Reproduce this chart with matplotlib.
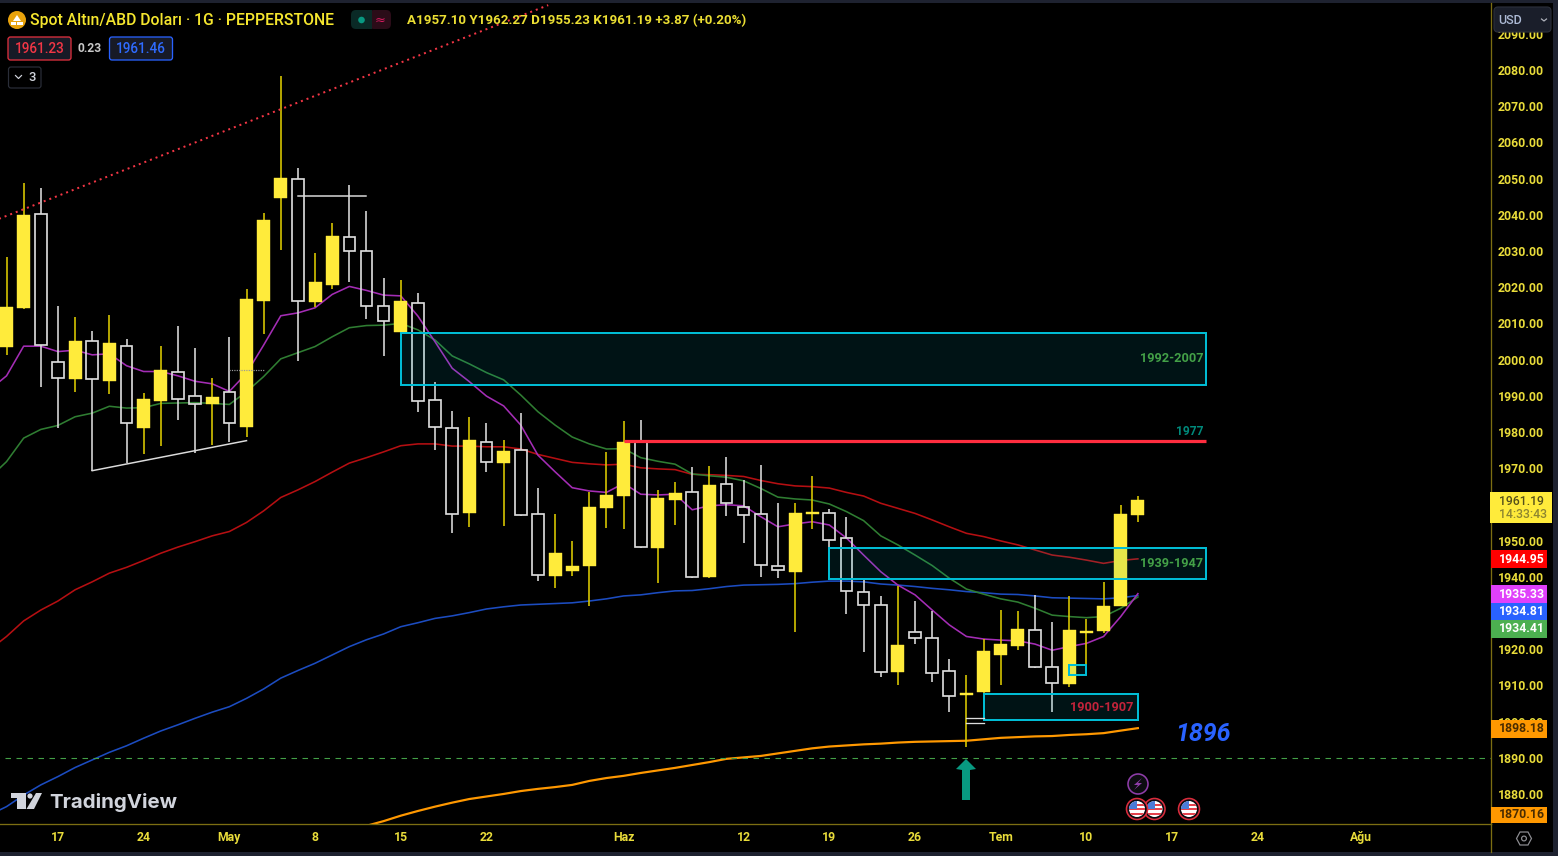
import matplotlib
matplotlib.use("Agg")
import matplotlib.pyplot as plt
from matplotlib.patches import Rectangle, FancyBboxPatch, Circle, Polygon

plt.rcParams['font.family'] = ['Roboto', 'DejaVu Sans']

# ======================
# DATA
# ======================
opens = [2003.4, 2014.3, 2040.2, 1999.2, 1994.6, 2005.1, 1994.0, 2003.8, 1981.2, 1988.6,
         1996.7, 1989.8, 1987.7, 1991.0, 1981.5, 2016.1, 2044.6, 2049.8, 2015.8, 2020.6,
         2033.9, 2029.9, 2014.9, 2007.5, 2015.7, 1988.9, 1981.0, 1957.6, 1977.3, 1971.5,
         1975.1, 1957.4, 1940.2, 1941.7, 1943.1, 1959.0, 1962.4, 1977.3, 1948.0, 1961.2,
         1963.4, 1939.9, 1965.7, 1959.4, 1957.2, 1942.9, 1941.4, 1957.3, 1957.5, 1950.6,
         1935.8, 1932.1, 1913.6, 1924.7, 1923.1, 1914.0, 1907.3, 1908.1, 1918.4, 1921.0,
         1925.3, 1915.1, 1910.5, 1924.4, 1924.9, 1932.0, 1957.10]
highs = [2028.4, 2048.8, 2047.4, 2014.9, 2011.8, 2008.0, 2012.3, 2005.7, 1990.8, 2003.8,
         2009.3, 2003.2, 1994.9, 2006.1, 2019.4, 2040.4, 2078.3, 2053.0, 2029.4, 2037.6,
         2048.1, 2041.1, 2022.6, 2022.0, 2018.3, 1993.8, 1985.9, 1984.2, 1982.5, 1977.7,
         1985.3, 1964.5, 1957.3, 1949.8, 1963.5, 1974.5, 1983.0, 1983.3, 1964.0, 1966.3,
         1970.2, 1970.6, 1973.1, 1966.7, 1970.9, 1960.3, 1960.3, 1967.8, 1958.7, 1956.6,
         1939.1, 1934.8, 1937.5, 1933.3, 1930.6, 1917.2, 1912.9, 1922.7, 1930.8, 1930.6,
         1935.0, 1927.6, 1934.7, 1928.2, 1938.5, 1959.8, 1962.27]
lows = [2001.3, 2014.0, 1992.4, 1981.2, 1991.1, 1969.3, 1990.6, 1971.4, 1974.0, 1976.1,
        1983.4, 1974.2, 1976.4, 1977.3, 1978.6, 2007.0, 2030.4, 1999.6, 2014.4, 2019.5,
        2021.4, 2011.2, 2001.1, 2007.3, 1985.4, 1975.0, 1952.0, 1953.8, 1969.0, 1954.1,
        1956.8, 1938.8, 1936.8, 1940.2, 1932.0, 1953.6, 1953.3, 1948.0, 1938.3, 1954.4,
        1939.6, 1939.7, 1956.7, 1949.3, 1940.0, 1939.7, 1924.8, 1953.3, 1948.0, 1929.7,
        1919.2, 1912.4, 1910.1, 1921.5, 1911.0, 1902.7, 1893.1, 1907.9, 1910.1, 1919.8,
        1914.8, 1902.7, 1909.6, 1915.2, 1924.4, 1931.9, 1955.23]
closes = [2014.6, 2040.0, 2004.0, 1994.9, 2005.2, 1994.6, 2004.7, 1982.5, 1989.0, 1997.0,
          1989.2, 1987.8, 1989.6, 1982.4, 2016.6, 2038.5, 2050.1, 2016.2, 2021.4, 2034.2,
          2030.1, 2014.8, 2010.7, 2016.3, 1988.6, 1981.3, 1957.4, 1977.7, 1971.6, 1974.8,
          1957.1, 1940.6, 1946.7, 1943.1, 1959.2, 1962.6, 1977.3, 1948.2, 1961.8, 1963.2,
          1939.8, 1965.4, 1960.5, 1957.1, 1943.2, 1941.8, 1957.7, 1957.8, 1950.2, 1936.1,
          1932.3, 1913.6, 1921.1, 1923.0, 1913.3, 1907.1, 1908.0, 1919.4, 1921.3, 1925.7,
          1915.0, 1910.7, 1925.3, 1925.0, 1931.9, 1957.2, 1961.19]

# moving averages, first value belongs to bar -1
ma_purple = [1991.6, 1995.5, 2003.7, 2003.7, 2002.2, 2002.6, 2001.3, 2001.6, 1998.3, 1996.7, 1996.7,
             1995.5, 1994.0, 1993.3, 1991.2, 1996.2, 2004.0, 2012.1, 2012.9, 2014.3, 2018.0,
             2020.2, 2019.1, 2017.8, 2017.6, 2012.0, 2004.9, 1997.6, 1993.9, 1989.9, 1987.2,
             1981.9, 1973.6, 1969.0, 1964.6, 1963.7, 1963.3, 1965.8, 1962.8, 1962.6, 1962.8,
             1958.5, 1959.6, 1959.9, 1959.6, 1956.6, 1953.8, 1954.6, 1955.2, 1954.3, 1950.7,
             1946.0, 1941.4, 1937.7, 1935.0, 1930.8, 1926.7, 1923.5, 1922.8, 1922.5, 1922.3,
             1921.4, 1919.7, 1920.7, 1921.6, 1923.5, 1929.0, 1935.33]
ma_green = [1967.3, 1971.8, 1978.3, 1980.7, 1981.8, 1984.2, 1985.2, 1987.1, 1986.6, 1986.7, 1987.9,
            1988.0, 1988.1, 1987.9, 1987.6, 1991.1, 1995.3, 2000.2, 2001.9, 2003.6, 2006.3,
            2008.8, 2009.4, 2009.5, 2010.0, 2008.2, 2005.4, 2001.0, 1998.8, 1996.4, 1994.4,
            1990.2, 1985.6, 1981.9, 1978.6, 1976.7, 1975.3, 1975.4, 1972.9, 1971.9, 1971.1,
            1968.4, 1967.9, 1967.5, 1966.5, 1964.4, 1962.0, 1961.5, 1961.2, 1960.1, 1958.0,
            1955.5, 1951.3, 1948.8, 1946.0, 1943.1, 1939.6, 1936.6, 1935.2, 1933.9, 1933.0,
            1931.3, 1929.4, 1929.0, 1928.7, 1929.0, 1931.3, 1934.41]
ma_red = [1919.8, 1923.5, 1927.8, 1930.8, 1933.3, 1936.4, 1938.6, 1941.0, 1942.6, 1944.5, 1946.5,
          1948.2, 1949.7, 1951.3, 1952.5, 1955.0, 1958.2, 1961.9, 1964.0, 1966.3, 1968.9,
          1971.4, 1972.9, 1974.5, 1976.2, 1976.7, 1976.7, 1976.1, 1976.1, 1975.9, 1975.9,
          1975.3, 1973.8, 1972.7, 1971.6, 1971.2, 1970.9, 1971.1, 1970.1, 1969.8, 1969.6,
          1968.3, 1968.2, 1968.0, 1967.7, 1966.6, 1965.7, 1965.1, 1964.9, 1964.5, 1963.3,
          1962.3, 1960.3, 1958.9, 1957.5, 1955.7, 1953.8, 1952.0, 1951.1, 1949.9, 1948.8,
          1947.4, 1946.0, 1945.4, 1944.6, 1943.7, 1944.5, 1944.95]
ma_blue = [1874.2, 1876.5, 1879.7, 1882.5, 1884.8, 1887.3, 1889.4, 1891.5, 1893.3, 1895.4, 1897.4,
           1899.1, 1900.9, 1902.6, 1904.1, 1906.4, 1909.0, 1912.0, 1914.1, 1916.1, 1918.4,
           1920.7, 1922.6, 1924.2, 1926.2, 1927.3, 1928.5, 1929.2, 1930.1, 1931.1, 1931.7,
           1932.2, 1932.4, 1932.6, 1932.8, 1933.3, 1933.9, 1934.7, 1935.0, 1935.6, 1936.1,
           1936.2, 1936.7, 1937.3, 1937.7, 1937.8, 1937.9, 1938.1, 1938.5, 1938.8, 1938.8,
           1938.6, 1938.0, 1937.7, 1937.3, 1936.8, 1936.4, 1935.9, 1935.6, 1935.2, 1935.1,
           1934.7, 1934.2, 1934.1, 1934.0, 1933.9, 1934.2, 1934.81]
# orange starts at bar 21
ma_orange = [1871.2, 1872.5, 1874.0, 1875.3, 1876.5, 1877.6, 1878.6, 1879.3, 1880.0, 1880.8,
             1881.4, 1881.9, 1882.5, 1883.6, 1884.4, 1885.0, 1885.8, 1886.5, 1887.2, 1888.0,
             1888.8, 1889.7, 1890.1, 1890.5, 1891.2, 1891.9, 1892.6, 1893.1, 1893.4, 1893.7,
             1893.9, 1894.2, 1894.4, 1894.5, 1894.6, 1894.7, 1895.1, 1895.5, 1895.7, 1895.9,
             1896.0, 1896.3, 1896.5, 1896.8, 1897.5, 1898.18]

# zones: bar start, bar end, low, high
zone_bars = [(23, 70), (48, 70), (57, 66), (62, 63)]
zone_prices = [(1993.0, 2007.3), (1939.4, 1948.0), (1900.4, 1907.6), (1912.9, 1915.6)]

date_ticks = [3, 8, 13, 18, 23, 28, 36, 43, 48, 53, 58, 63, 68, 73, 79]
date_labels = ['17', '24', 'May', '8', '15', '22', 'Haz', '12', '19', '26', 'Tem', '10', '17', '24', 'Ağu']
# 1930 and 1960 sit fully behind the price tags
price_ticks = [p for p in range(1880, 2100, 10) if p not in (1930, 1960)]

# price tags on the axis: label, top px, bottom px, fill, text colour
tag_labels = ['1944.95', '1935.33', '1934.81', '1934.41', '1898.18', '1870.16']
tag_tops = [550.3, 585.3, 603, 620.3, 720, 806.7]
tag_bottoms = [568, 603, 620.3, 637.7, 737.7, 823.3]
tag_fills = ['#ff0000', '#e040fb', '#2962ff', '#4caf50', '#ff9800', '#ff9800']
tag_texts = ['white', 'white', 'white', 'white', '#4a2c00', '#4a2c00']

# ======================
# COLOURS
# ======================
YELLOW = '#ffeb3b'
WICK_Y = '#dccb00'
WHITE_C = '#dcdcdc'
LABEL_Y = '#e9dc3a'
OLIVE = '#7c6e12'
FRAME = '#1e2230'
CYAN = '#00bcd4'

W, H = 1558, 856
fig = plt.figure(figsize=(W / 100, H / 100), dpi=100, facecolor=FRAME)


def px(v):
    # pixels to points at this dpi
    return v * 0.72


# background
base = fig.add_axes([0, 0, 1, 1], zorder=0)
base.set_xlim(0, W)
base.set_ylim(H, 0)
base.axis('off')
base.add_patch(Rectangle((0, 3), 1553, 849, fc='black', ec='none'))
base.plot([1491, 1491], [824, 852], color=OLIVE, lw=px(1.3))

# ======================
# MAIN AXES
# ======================
ax = fig.add_axes([0, (H - 824) / H, 1491 / W, (824 - 3) / H], zorder=1)
ax.patch.set_alpha(0)
ax.set_xlim(-0.38, 86.6)
ax.set_ylim(1871.7, 2098.5)

for s in ['top', 'left']:
    ax.spines[s].set_visible(False)
for s in ['right', 'bottom']:
    ax.spines[s].set_color(OLIVE)
    ax.spines[s].set_linewidth(px(1.3))

ax.yaxis.tick_right()
ax.set_yticks(price_ticks)
ax.set_yticklabels(['%.2f' % p for p in price_ticks], color=LABEL_Y, fontsize=px(12.2), fontweight='bold')
ax.set_xticks(date_ticks)
ax.set_xticklabels(date_labels, color=LABEL_Y, fontsize=px(12.2), fontweight='bold')
ax.tick_params(axis='y', length=0, pad=px(7))
ax.tick_params(axis='x', length=0, pad=px(7))

bars = list(range(len(opens)))
ma_x = list(range(-1, len(opens)))
orange_x = list(range(21, 21 + len(ma_orange)))

ax.plot(ma_x, ma_blue, color='#1c4cc0', lw=px(1.6), zorder=2)
ax.plot(ma_x, ma_red, color='#b50f12', lw=px(1.6), zorder=2)
ax.plot(ma_x, ma_green, color='#2f7d32', lw=px(1.6), zorder=2)
ax.plot(ma_x, ma_purple, color='#a42db5', lw=px(1.6), zorder=2)
ax.plot(orange_x, ma_orange, color='#ff9800', lw=px(2.2), zorder=2)

# candles
for i in bars:
    o, h, l, c = opens[i], highs[i], lows[i], closes[i]
    up = c >= o
    top, bot = max(o, c), min(o, c)
    wick = WICK_Y if up else WHITE_C
    ax.vlines(i, top, h, color=wick, lw=px(1.6), zorder=3)
    ax.vlines(i, l, bot, color=wick, lw=px(1.6), zorder=3)
    if up:
        ax.bar(i, top - bot, bottom=bot, width=0.76, color=YELLOW, edgecolor=YELLOW, lw=0.3, zorder=4)
    else:
        ax.bar(i, top - bot, bottom=bot, width=0.68, facecolor='none', edgecolor=WHITE_C, lw=px(1.7), zorder=4)

# zones
for (x0, x1), (p0, p1) in zip(zone_bars, zone_prices):
    ax.add_patch(Rectangle((x0, p0), x1 - x0, p1 - p0, fc=(0, 0.74, 0.83, 0.1), ec='none', zorder=5))
    ax.add_patch(Rectangle((x0, p0), x1 - x0, p1 - p0, fc='none', ec=CYAN, lw=px(2), zorder=5))

# drawings
ax.plot([36, 70], [1977.5, 1977.5], color='#ff2d3f', lw=px(3.2), zorder=6, solid_capstyle='butt')
ax.plot([-1, 31.6], [2037.85, 2097.9], color='#f23645', lw=px(2), ls=(0, (1, 2)), zorder=6)
ax.plot([5, 14], [1969.3, 1977.6], color=WHITE_C, lw=px(1.5), zorder=6)
ax.plot([17, 21], [2045.3, 2045.3], color=WHITE_C, lw=px(1.5), zorder=6)
ax.plot([13, 15], [1997.1, 1997.1], color='#9a9a9a', lw=px(1.2), ls=(0, (1, 1)), zorder=6)
ax.plot([56, 57], [1901.1, 1901.1], color=WHITE_C, lw=px(1.3), zorder=6)
ax.plot([56, 57], [1899.7, 1899.7], color=WHITE_C, lw=px(1.3), zorder=6)
ax.plot([-0.1, 86.6], [1890, 1890], color='#43a047', lw=px(1.1), ls=(0, (5, 5)), zorder=6)

ax.text(69.8, 2000.2, '1992-2007', color='#43a047', fontsize=px(12.7), ha='right', va='center', fontweight='bold', zorder=7)
ax.text(69.8, 1943.6, '1939-1947', color='#43a047', fontsize=px(12.7), ha='right', va='center', fontweight='bold', zorder=7)
ax.text(65.75, 1904.0, '1900-1907', color='#c2233a', fontsize=px(12.7), ha='right', va='center', fontweight='bold', zorder=7)
ax.text(69.8, 1980.2, '1977', color='#00897b', fontsize=px(12), ha='right', va='center', fontweight='bold', zorder=7)
ax.text(68.2, 1896.6, '1896', color='#2962ff', fontsize=px(25), ha='left', va='center', style='italic', fontweight='bold', zorder=7)

# ======================
# OVERLAY (widgets in pixel positions)
# ======================
ov = fig.add_axes([0, 0, 1, 1], zorder=2)
ov.set_xlim(0, W)
ov.set_ylim(H, 0)
ov.axis('off')
ov.patch.set_alpha(0)


def rbox(x0, y0, x1, y1, fc, ec='none', lw=1.0, r=2.5):
    ov.add_patch(FancyBboxPatch((x0 + r, y0 + r), x1 - x0 - 2 * r, y1 - y0 - 2 * r,
                                boxstyle='round,pad=%f,rounding_size=%f' % (r, r),
                                fc=fc, ec=ec, lw=px(lw)))


# legend row
ov.add_patch(Circle((17, 20), 9, fc='#e8a20c', ec='none'))
ov.add_patch(Polygon([(13, 21), (21, 21), (17, 15)], fc='white', ec='none'))
ov.add_patch(Rectangle((11, 21.5), 5.5, 3.5, fc='white', ec='none'))
ov.add_patch(Rectangle((17.5, 21.5), 5.5, 3.5, fc='white', ec='none'))
ov.text(30, 20.5, 'Spot Altın/ABD Doları · 1G · PEPPERSTONE', color='#f5e62e', fontsize=px(15.7), va='center', fontweight='medium')
ov.text(407, 21, 'A1957.10 Y1962.27 D1955.23 K1961.19 +3.87 (+0.20%)', color='#ebde33', fontsize=px(13.4), va='center', fontweight='bold')

rbox(351, 10, 372, 29, '#0a2a26', r=5)
rbox(369, 10, 391, 29, '#2b0c18', r=5)
ov.add_patch(Rectangle((368, 10), 4, 19, fc='#0a2a26', ec='none'))
ov.add_patch(Circle((361.5, 20), 3.3, fc='#089981', ec='none'))
ov.text(380, 20, '≈', color='#d81b60', fontsize=px(13), ha='center', va='center', family=['DejaVu Sans'])

rbox(8, 37, 71, 60, '#171a26', ec='#e0303f', lw=1.3)
ov.text(39.5, 49, '1961.23', color='#f23645', fontsize=px(13.5), ha='center', va='center', fontweight='medium')
ov.text(89.5, 48.5, '0.23', color='#c8c8c8', fontsize=px(12), ha='center', va='center', fontweight='bold')
rbox(109.5, 37, 172.5, 60, '#171a26', ec='#2962ff', lw=1.3)
ov.text(141, 49, '1961.46', color='#2f6bff', fontsize=px(13.5), ha='center', va='center', fontweight='medium')

rbox(8.5, 67, 41, 88, '#000000', ec='#2a2e39', lw=1.2)
ov.plot([15.5, 18.5, 21.5], [75.5, 78.5, 75.5], color='#d1d4dc', lw=px(1.2))
ov.text(32, 77.5, '3', color='#d1d4dc', fontsize=px(13), ha='center', va='center', fontweight='medium')

# watermark logo
ov.add_patch(Polygon([(11, 793), (26, 793), (26, 809), (17, 809), (17, 798), (11, 798)], fc='#d1d4dc', ec='none'))
ov.add_patch(Circle((30, 796), 2.6, fc='#d1d4dc', ec='none'))
ov.add_patch(Polygon([(36, 793), (42, 793), (34, 809), (26.5, 809)], fc='#d1d4dc', ec='none'))
ov.text(49, 802, 'TradingView', color='#d1d4dc', fontsize=px(20.5), va='center', family=['Inter', 'DejaVu Sans'], fontweight='bold')

# arrow
ov.add_patch(Polygon([(966, 759), (976, 769), (970, 770), (970, 800), (962, 800), (962, 770), (956, 769)],
                     fc='#089981', ec='none', joinstyle='round'))

# event icons
ov.add_patch(Circle((1138, 784), 10, fc='#0c0c10', ec='#8e3da8', lw=px(1.6)))
ov.add_patch(Polygon([(1142, 778), (1134, 785), (1138, 785), (1134, 790), (1142, 783), (1138, 783)], fc='#8e3da8', ec='none'))
for fx in [1154.5, 1137, 1189]:
    ring = Circle((fx, 809), 10.5, fc='#0a0a10', ec='#d92c3c', lw=px(1.6))
    ov.add_patch(ring)
    disc = Circle((fx, 809), 8, fc='white', ec='none')
    ov.add_patch(disc)
    for k in range(3):
        st = Rectangle((fx - 8, 803.5 + k * 4.6), 16, 2.3, fc='#e4424d', ec='none')
        ov.add_patch(st)
        st.set_clip_path(disc)
    cant = Rectangle((fx - 8, 801), 8.5, 7.5, fc='#4b7bd8', ec='none')
    ov.add_patch(cant)
    cant.set_clip_path(disc)

# right axis tags
ov.add_patch(Rectangle((1490, 492), 62, 31.3, fc=YELLOW, ec='none'))
ov.text(1499, 501, '1961.19', color='#55501a', fontsize=px(12.2), va='center', fontweight='medium')
ov.text(1499, 515, '14:33:43', color='#8c8530', fontsize=px(12.2), va='center', fontweight='medium')
for lab, y0, y1, fc, tc in zip(tag_labels, tag_tops, tag_bottoms, tag_fills, tag_texts):
    ov.add_patch(Rectangle((1491, y0), 56.5, y1 - y0, fc=fc, ec='none'))
    ov.text(1499, (y0 + y1) / 2, lab, color=tc, fontsize=px(12.2), va='center', fontweight='bold')

# currency box
rbox(1494, 7, 1551, 32, '#1a1e2a', ec='#2a2e39', lw=1.2, r=4)
ov.text(1498, 20, 'USD', color='#aebbd6', fontsize=px(12.5), va='center', fontweight='medium')
ov.plot([1541.5, 1544, 1546.5], [19, 21, 19], color='#b2b5be', lw=px(1.2))

# settings hexagon
ov.add_patch(Polygon([(1516.5, 838.5), (1520, 832), (1528, 832), (1531.5, 838.5), (1528, 845), (1520, 845)],
                     fc='none', ec='#8f8f94', lw=px(1.2)))
ov.add_patch(Circle((1524, 838.5), 2.4, fc='none', ec='#8f8f94', lw=px(1.2)))

fig.savefig('out.png', dpi=100, facecolor=fig.get_facecolor())
